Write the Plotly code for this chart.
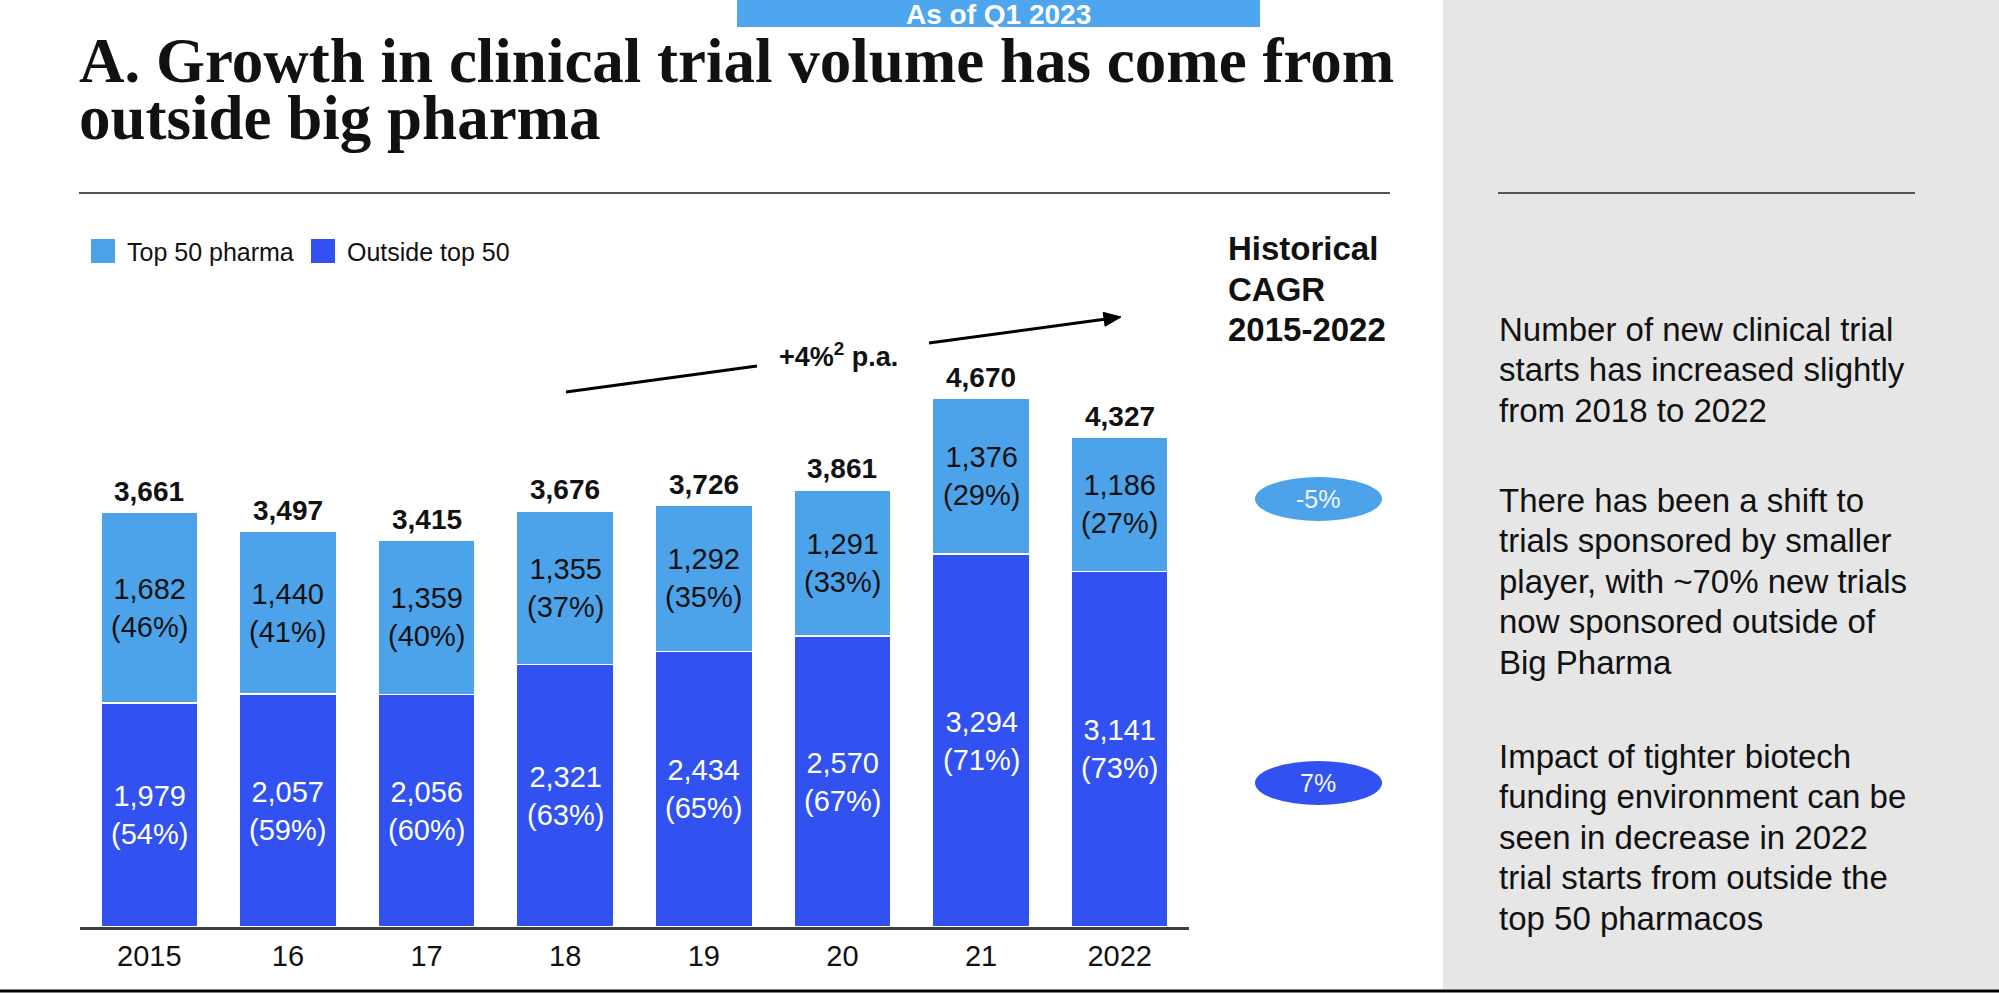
import math
import plotly.graph_objects as go

# ---------------- data ----------------
years = ["2015", "16", "17", "18", "19", "20", "21", "2022"]
top50 = [1682, 1440, 1359, 1355, 1292, 1291, 1376, 1186]
outside = [1979, 2057, 2056, 2321, 2434, 2570, 3294, 3141]
totals = [3661, 3497, 3415, 3676, 3726, 3861, 4670, 4327]
top50_pct = [46, 41, 40, 37, 35, 33, 29, 27]
outside_pct = [54, 59, 60, 63, 65, 67, 71, 73]
series_names = ["Top 50 pharma", "Outside top 50"]
cagr_values = ["-5%", "7%"]
cagr_title = ["Historical", "CAGR", "2015-2022"]
growth_label = "+4%<sup>2</sup> p.a."
banner_text = "As of Q1 2023"
title_lines = ["A. Growth in clinical trial volume has come from", "outside big pharma"]
notes = [
    ["Number of new clinical trial", "starts has increased slightly", "from 2018 to 2022"],
    ["There has been a shift to", "trials sponsored by smaller", "player, with ~70% new trials",
     "now sponsored outside of", "Big Pharma"],
    ["Impact of tighter biotech", "funding environment can be", "seen in decrease in 2022",
     "trial starts from outside the", "top 50 pharmacos"],
]

# ---------------- style ----------------
LIGHT = "#4CA3EA"
DARK = "#3152F1"
SANS = "Liberation Sans, Arial, sans-serif"
SERIF = "Liberation Serif, Times New Roman, serif"

W, H = 1999, 993
ML, MR, MT, MB = 80, 1999 - 1189, 361, 66
PW = W - ML - MR
PH = H - MT - MB


def px(x):
    return (x - ML) / PW


def py(y):
    return (H - MB - y) / PH


xpos = list(range(len(years)))

fig = go.Figure()
fig.add_trace(go.Bar(x=xpos, y=outside, name=series_names[1], width=0.7,
                     marker=dict(color=DARK, line=dict(color="white", width=1.5))))
fig.add_trace(go.Bar(x=xpos, y=top50, name=series_names[0], width=0.7,
                     marker=dict(color=LIGHT, line=dict(color="white", width=1.5))))

ann = []


def note(x, y, text, size, color="#111111", xanchor="center", family=SANS):
    ann.append(dict(x=x, y=y, xref="paper", yref="paper", showarrow=False, text=text,
                    xanchor=xanchor, yanchor="middle",
                    font=dict(family=family, size=size, color=color)))


for i in xpos:
    ann.append(dict(x=i, y=outside[i] / 2, xref="x", yref="y", showarrow=False,
                    xanchor="center", yanchor="middle",
                    text=f"{outside[i]:,}<br>({outside_pct[i]}%)",
                    font=dict(family=SANS, size=29, color="white")))
    ann.append(dict(x=i, y=outside[i] + top50[i] / 2, xref="x", yref="y", showarrow=False,
                    xanchor="center", yanchor="middle",
                    text=f"{top50[i]:,}<br>({top50_pct[i]}%)",
                    font=dict(family=SANS, size=29, color="#111111")))
    ann.append(dict(x=i, y=totals[i], xref="x", yref="y", showarrow=False, yshift=21,
                    xanchor="center", yanchor="middle",
                    text=f"<b>{totals[i]:,}</b>",
                    font=dict(family=SANS, size=28, color="#111111")))

shapes = []
# grey side panel
shapes.append(dict(type="rect", xref="paper", yref="paper", x0=px(1443), x1=px(2005),
                   y0=py(989), y1=py(-5), fillcolor="#E6E6E6", line=dict(width=0), layer="below"))
# bottom black rule
shapes.append(dict(type="line", xref="paper", yref="paper", x0=px(-5), x1=px(2005),
                   y0=py(991), y1=py(991), line=dict(color="black", width=3)))
# title rules
shapes.append(dict(type="line", xref="paper", yref="paper", x0=px(79), x1=px(1390),
                   y0=py(193), y1=py(193), line=dict(color="#555555", width=2)))
shapes.append(dict(type="line", xref="paper", yref="paper", x0=px(1498), x1=px(1915),
                   y0=py(193), y1=py(193), line=dict(color="#555555", width=2)))
# banner
shapes.append(dict(type="rect", xref="paper", yref="paper", x0=px(737), x1=px(1260),
                   y0=py(27), y1=py(-5), fillcolor="#4DA6EE", line=dict(width=0)))
# legend squares
shapes.append(dict(type="rect", xref="paper", yref="paper", x0=px(91), x1=px(115),
                   y0=py(263), y1=py(239), fillcolor=LIGHT, line=dict(width=0)))
shapes.append(dict(type="rect", xref="paper", yref="paper", x0=px(311), x1=px(335),
                   y0=py(263), y1=py(239), fillcolor=DARK, line=dict(width=0)))
# CAGR ellipses
shapes.append(dict(type="circle", xref="paper", yref="paper", x0=px(1255), x1=px(1382),
                   y0=py(521), y1=py(477), fillcolor=LIGHT, line=dict(width=0)))
shapes.append(dict(type="circle", xref="paper", yref="paper", x0=px(1255), x1=px(1382),
                   y0=py(805), y1=py(761), fillcolor=DARK, line=dict(width=0)))
# growth arrow, left segment
shapes.append(dict(type="line", xref="paper", yref="paper", x0=px(566), x1=px(757),
                   y0=py(392), y1=py(366), line=dict(color="black", width=3)))
# growth arrow, right segment + head
tail = (929, 343)
tip = (1121, 317)
dx, dy = tip[0] - tail[0], tip[1] - tail[1]
ln = math.hypot(dx, dy)
ux, uy = dx / ln, dy / ln
hl, hw = 17, 7
bx, by = tip[0] - hl * ux, tip[1] - hl * uy
shapes.append(dict(type="line", xref="paper", yref="paper", x0=px(tail[0]), x1=px(bx + 2 * ux),
                   y0=py(tail[1]), y1=py(by + 2 * uy), line=dict(color="black", width=3)))
p1 = (bx - hw * uy, by + hw * ux)
p2 = (bx + hw * uy, by - hw * ux)
path = (f"M {px(tip[0])},{py(tip[1])} L {px(p1[0])},{py(p1[1])} "
        f"L {px(p2[0])},{py(p2[1])} Z")
shapes.append(dict(type="path", xref="paper", yref="paper", path=path,
                   fillcolor="black", line=dict(color="black", width=1)))

note(px(838), py(355), f"<b>{growth_label}</b>", 27)

# banner text
note(px(998), py(14), f"<b>{banner_text}</b>", 28, color="white")

# title
for line, yc in zip(title_lines, [61, 118]):
    note(px(77), py(yc), f"<b>{line}</b>", 63, xanchor="left", family=SERIF)

# legend texts
note(px(125), py(252), series_names[0], 25, xanchor="left")
note(px(345), py(252), series_names[1], 25, xanchor="left")

# CAGR header
for line, yc in zip(cagr_title, [249, 289, 329]):
    note(px(1226), py(yc), f"<b>{line}</b>", 33, xanchor="left")
# CAGR values
for val, yc in zip(cagr_values, [499, 783]):
    note(px(1318), py(yc), val, 25, color="#F2F6FF")

# side notes
starts = [329, 500, 756]
for para, y0 in zip(notes, starts):
    for k, line in enumerate(para):
        note(px(1497), py(y0 + k * 40.5), line, 33, xanchor="left")

fig.update_layout(
    width=W, height=H,
    margin=dict(l=ML, r=MR, t=MT, b=MB, pad=0),
    barmode="stack",
    showlegend=False,
    paper_bgcolor="white", plot_bgcolor="white",
    xaxis=dict(range=[-0.5, len(years) - 0.5], tickmode="array", tickvals=xpos, ticktext=years,
               showline=True, linecolor="#404040", linewidth=3,
               ticks="outside", ticklen=1, tickcolor="rgba(0,0,0,0)",
               tickfont=dict(family=SANS, size=29, color="#111111"),
               showgrid=False, zeroline=False, fixedrange=True),
    yaxis=dict(visible=False, range=[0, 5000], fixedrange=True),
    annotations=ann, shapes=shapes,
)

fig.write_html("out.html", config={"displayModeBar": False})
